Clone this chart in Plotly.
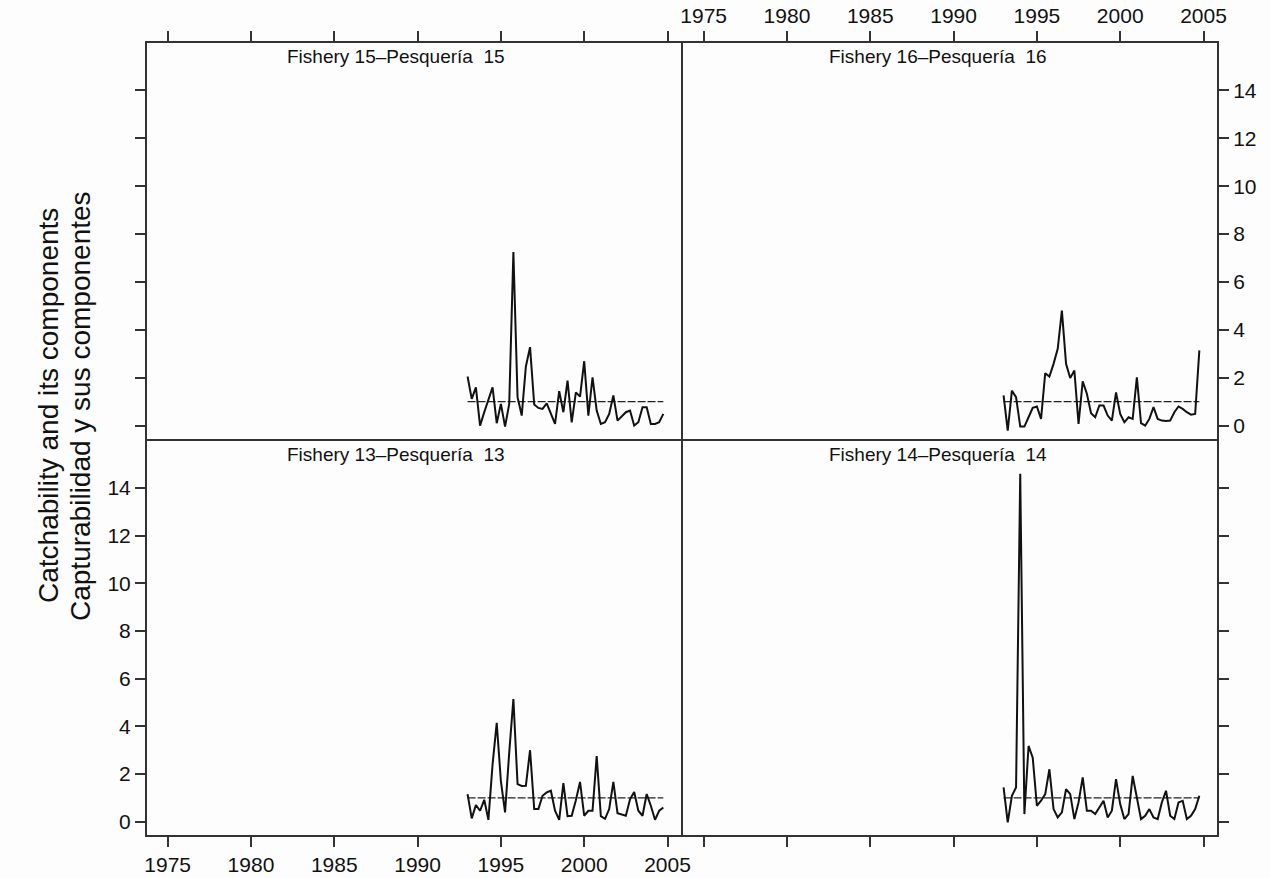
import numpy as np
import plotly.graph_objects as go

# Quarterly time grid, 1993 Q1 to 2004 Q4
first_year = 1993.0
n_obs = 48
t = first_year + 0.25 * np.arange(n_obs)

# Catchability series by fishery
fishery_15 = [2.05, 1.12, 1.60, 0.00, 0.56, 1.05, 1.60, 0.10, 0.91, -0.04, 0.91, 7.25,
              1.19, 0.42, 2.47, 3.28, 0.88, 0.74, 0.70, 0.93, 0.52, 0.07, 1.44, 0.56,
              1.88, 0.14, 1.39, 1.21, 2.69, 0.42, 2.02, 0.63, 0.07, 0.14, 0.49, 1.26,
              0.21, 0.38, 0.56, 0.63, 0.00, 0.14, 0.77, 0.77, 0.07, 0.07, 0.14, 0.49]
fishery_16 = [1.26, -0.21, 1.46, 1.19, -0.04, -0.04, 0.35, 0.74, 0.80, 0.28, 2.19, 2.05,
              2.58, 3.21, 4.80, 2.58, 1.99, 2.30, 0.07, 1.85, 1.33, 0.52, 0.35, 0.84,
              0.84, 0.42, 0.21, 1.39, 0.49, 0.14, 0.35, 0.28, 2.02, 0.10, 0.00, 0.28,
              0.77, 0.28, 0.21, 0.19, 0.21, 0.56, 0.80, 0.70, 0.56, 0.46, 0.49, 3.14]
fishery_13 = [1.16, 0.14, 0.70, 0.46, 0.92, 0.08, 2.40, 4.15, 1.70, 0.39, 2.90, 5.15,
              1.58, 1.50, 1.51, 3.00, 0.53, 0.53, 1.09, 1.23, 1.30, 0.46, 0.08, 1.62,
              0.23, 0.25, 0.90, 1.67, 0.25, 0.46, 0.46, 2.75, 0.23, 0.12, 0.53, 1.67,
              0.36, 0.32, 0.25, 0.94, 1.25, 0.46, 0.25, 1.16, 0.67, 0.08, 0.46, 0.60]
fishery_14 = [1.44, -0.03, 1.09, 1.44, 14.60, 0.32, 3.18, 2.69, 0.67, 0.88, 1.16, 2.20,
              0.53, 0.18, 0.39, 1.37, 1.16, 0.11, 0.81, 1.86, 0.46, 0.46, 0.32, 0.60,
              0.88, 0.18, 0.46, 1.79, 0.74, 0.11, 0.32, 1.92, 0.95, 0.11, 0.25, 0.53,
              0.18, 0.11, 0.81, 1.30, 0.25, 0.11, 0.81, 0.88, 0.11, 0.25, 0.53, 1.09]
reference_level = 1.0

strip_titles = ["Fishery 15\u2013Pesquer\u00eda  15", "Fishery 16\u2013Pesquer\u00eda  16",
                "Fishery 13\u2013Pesquer\u00eda  13", "Fishery 14\u2013Pesquer\u00eda  14"]
year_ticks = [1975, 1980, 1985, 1990, 1995, 2000, 2005]
value_ticks = [0, 2, 4, 6, 8, 10, 12, 14]
y_title_en = "Catchability and its components"
y_title_es = "Capturabilidad y sus componentes"

W, H = 1270, 878
FONT = "Liberation Sans, Arial, sans-serif"
FRAME = "#333333"
INK = "#111111"
BG = "#fdfdfd"

# panel boxes in pixels
col_px = [(146, 682), (682, 1218)]
row_px = [(42, 440), (440, 836)]
xdom = [[a / W, b / W] for a, b in col_px]
ydom = [[1 - b / H, 1 - a / H] for a, b in row_px]

x_range = [1973.70, 2005.87]
y_range = [-0.6, 16.02]

panels = [
    # (series, row, col, x side, x labels, y side, y labels, title shift)
    (fishery_15, 0, 0, "top", False, "left", False, -18),
    (fishery_16, 0, 1, "top", True, "right", True, -12),
    (fishery_13, 1, 0, "bottom", True, "left", True, -18),
    (fishery_14, 1, 1, "bottom", False, "right", False, -12),
]

tick_font = dict(family=FONT, size=21, color=INK)

fig = go.Figure()
layout = dict(
    width=W, height=H, autosize=False,
    margin=dict(l=0, r=0, t=0, b=0, pad=0),
    paper_bgcolor=BG, plot_bgcolor=BG,
    showlegend=False,
    font=dict(family=FONT, size=18, color=INK),
)
annotations = []
shapes = []

for k, (series, r, c, xside, xlab, yside, ylab, shift) in enumerate(panels):
    n = "" if k == 0 else str(k + 1)
    xa, ya = "x" + n, "y" + n
    layout["xaxis" + n] = dict(
        domain=xdom[c], anchor=ya, side=xside, range=x_range,
        tickmode="array", tickvals=year_ticks, showticklabels=xlab,
        ticks="outside", ticklen=10, tickwidth=1.5, tickcolor=FRAME,
        showline=False, showgrid=False, zeroline=False, automargin=False,
        tickfont=tick_font,
    )
    layout["yaxis" + n] = dict(
        domain=ydom[r], anchor=xa, side=yside, range=y_range,
        tickmode="array", tickvals=value_ticks, showticklabels=ylab,
        ticks="outside", ticklen=10, tickwidth=1.5, tickcolor=FRAME,
        showline=False, showgrid=False, zeroline=False, automargin=False,
        tickfont=tick_font,
    )
    # panel frame
    shapes.append(dict(
        type="rect", xref="paper", yref="paper",
        x0=xdom[c][0], x1=xdom[c][1], y0=ydom[r][0], y1=ydom[r][1],
        line=dict(color=FRAME, width=2), fillcolor="rgba(0,0,0,0)", layer="above"))
    fig.add_trace(go.Scatter(
        x=[t[0], t[-1]], y=[reference_level, reference_level], mode="lines",
        line=dict(color="#222222", width=1.2, dash="8px,2px"),
        xaxis=xa, yaxis=ya, hoverinfo="skip"))
    fig.add_trace(go.Scatter(
        x=t, y=series, mode="lines",
        line=dict(color=INK, width=2),
        xaxis=xa, yaxis=ya))
    cx = (col_px[c][0] + col_px[c][1]) / 2
    cy = row_px[r][0] + 14
    annotations.append(dict(
        text=strip_titles[k], x=cx / W, y=1 - cy / H, xref="paper", yref="paper",
        xanchor="center", yanchor="middle", xshift=shift, showarrow=False,
        font=dict(family=FONT, size=19, color=INK)))

annotations.append(dict(
    text=y_title_en, x=48 / W, y=1 - 406 / H, xref="paper", yref="paper",
    textangle=-90, xanchor="center", yanchor="middle", showarrow=False,
    font=dict(family=FONT, size=28, color=INK)))
annotations.append(dict(
    text=y_title_es, x=80 / W, y=1 - 406 / H, xref="paper", yref="paper",
    textangle=-90, xanchor="center", yanchor="middle", showarrow=False,
    font=dict(family=FONT, size=28, color=INK)))

layout["annotations"] = annotations
layout["shapes"] = shapes
fig.update_layout(**layout)
fig.write_html("out.html")
